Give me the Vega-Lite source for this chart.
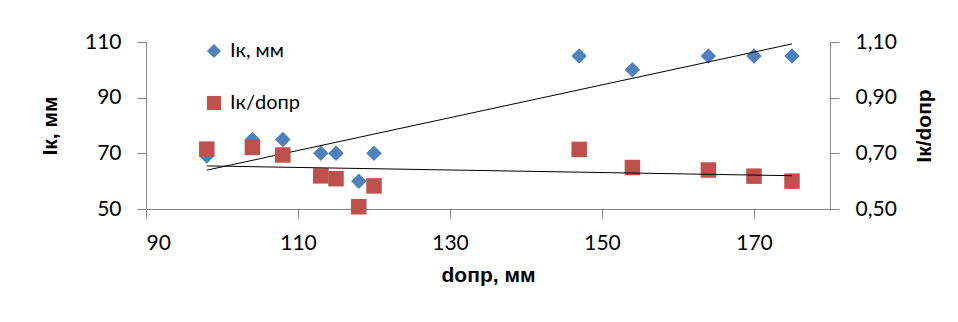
{
  "$schema": "https://vega.github.io/schema/vega-lite/v6.json",
  "width": 684,
  "height": 167,
  "autosize": {"type": "none"},
  "padding": {"left": 146, "top": 42, "right": 128, "bottom": 113},
  "background": "white",
  "config": {
    "view": {"stroke": null},
    "axis": {
      "grid": false,
      "domainColor": "#868686",
      "tickColor": "#868686",
      "tickSize": 9,
      "labelFont": "Lato",
      "labelFontSize": 21,
      "labelColor": "#000000",
      "labelPadding": 10,
      "titleFont": "Liberation Sans",
      "titleFontSize": 21,
      "titleFontWeight": "bold",
      "titleColor": "#000000"
    },
    "legend": {"labelFont": "Lato", "labelFontSize": 20, "labelColor": "#000000"}
  },
  "data": {
    "values": [
      {"d": 98, "series": "Iк, мм", "value": 69},
      {"d": 104, "series": "Iк, мм", "value": 75},
      {"d": 108, "series": "Iк, мм", "value": 75},
      {"d": 113, "series": "Iк, мм", "value": 70},
      {"d": 115, "series": "Iк, мм", "value": 70},
      {"d": 118, "series": "Iк, мм", "value": 60},
      {"d": 120, "series": "Iк, мм", "value": 70},
      {"d": 147, "series": "Iк, мм", "value": 105},
      {"d": 154, "series": "Iк, мм", "value": 100},
      {"d": 164, "series": "Iк, мм", "value": 105},
      {"d": 170, "series": "Iк, мм", "value": 105},
      {"d": 175, "series": "Iк, мм", "value": 105},
      {"d": 98, "series": "Iк/dопр", "value": 0.715},
      {"d": 104, "series": "Iк/dопр", "value": 0.721},
      {"d": 108, "series": "Iк/dопр", "value": 0.694},
      {"d": 113, "series": "Iк/dопр", "value": 0.619},
      {"d": 115, "series": "Iк/dопр", "value": 0.609},
      {"d": 118, "series": "Iк/dопр", "value": 0.508},
      {"d": 120, "series": "Iк/dопр", "value": 0.583},
      {"d": 147, "series": "Iк/dопр", "value": 0.714},
      {"d": 154, "series": "Iк/dопр", "value": 0.649},
      {"d": 164, "series": "Iк/dопр", "value": 0.640},
      {"d": 170, "series": "Iк/dопр", "value": 0.618},
      {"d": 175, "series": "Iк/dопр", "value": 0.600}
    ]
  },
  "encoding": {
    "x": {
      "field": "d",
      "type": "quantitative",
      "scale": {"domain": [90, 180], "nice": false, "zero": false},
      "axis": {"values": [90, 110, 130, 150, 170], "title": "dопр, мм", "labelPadding": 14, "titlePadding": 11}
    }
  },
  "layer": [
    {
      "transform": [{"filter": "datum.series === 'Iк, мм'"}],
      "encoding": {
        "y": {
          "field": "value",
          "type": "quantitative",
          "scale": {"domain": [50, 110], "nice": false, "zero": false},
          "axis": {"orient": "left", "values": [50, 70, 90, 110], "title": "Iк, мм", "labelPadding": 16, "titlePadding": 24}
        }
      },
      "layer": [
        {
          "mark": {"type": "point", "filled": true, "opacity": 1, "size": 240},
          "encoding": {
            "color": {
              "field": "series",
              "type": "nominal",
              "scale": {"domain": ["Iк, мм", "Iк/dопр"], "range": ["#4F81BD", "#C0504D"]},
              "legend": {"orient": "none", "legendX": 58, "legendY": -1, "title": null, "rowPadding": 32, "symbolSize": 200, "labelOffset": 6}
            },
            "shape": {
              "field": "series",
              "type": "nominal",
              "scale": {"domain": ["Iк, мм", "Iк/dопр"], "range": ["diamond", "square"]},
              "legend": {"orient": "none", "legendX": 58, "legendY": -1, "title": null, "rowPadding": 32, "symbolSize": 200, "labelOffset": 6}
            }
          }
        },
        {
          "transform": [{"regression": "value", "on": "d", "extent": [98, 175]}],
          "mark": {"type": "line", "color": "#000000", "strokeWidth": 1},
          "encoding": {}
        }
      ]
    },
    {
      "transform": [{"filter": "datum.series === 'Iк/dопр'"}],
      "encoding": {
        "y": {
          "field": "value",
          "type": "quantitative",
          "scale": {"domain": [0.5, 1.1], "nice": false, "zero": false},
          "axis": {
            "orient": "right",
            "values": [0.5, 0.7, 0.9, 1.1],
            "labelExpr": "replace(format(datum.value, '.2f'), '.', ',')",
            "title": "Iк/dопр",
            "titleAngle": 270,
            "titleBaseline": "bottom",
            "labelPadding": 16,
            "titlePadding": 38
          }
        }
      },
      "layer": [
        {
          "mark": {"type": "point", "filled": true, "opacity": 1, "size": 240},
          "encoding": {
            "color": {"field": "series", "type": "nominal"},
            "shape": {"field": "series", "type": "nominal"}
          }
        },
        {
          "transform": [{"regression": "value", "on": "d", "extent": [98, 175]}],
          "mark": {"type": "line", "color": "#000000", "strokeWidth": 1},
          "encoding": {}
        }
      ]
    }
  ],
  "resolve": {"scale": {"y": "independent"}, "axis": {"y": "independent"}}
}
